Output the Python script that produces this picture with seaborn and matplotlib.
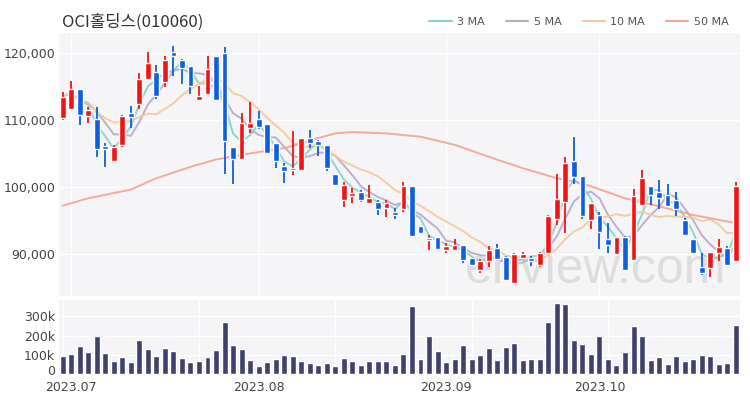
import numpy as np
import pandas as pd
import seaborn as sns
import matplotlib.pyplot as plt
import matplotlib.transforms as mtransforms
from matplotlib.lines import Line2D

# daily prices (won)
opens = [110300, 111600, 114600, 110600, 110200, 106100, 103900, 106300, 111100, 112400,
         116200, 117100, 115700, 120200, 119000, 118000, 113000, 113900, 119500, 120000,
         105900, 104100, 108800, 110200, 109400, 106600, 103100, 102500, 102600, 107300,
         106800, 106300, 102000, 98000, 98700, 99200, 97600, 97700, 96800, 96300,
         96700, 100100, 94100, 92000, 92500, 90500, 90500, 91300, 89400, 87600,
         88900, 90800, 89500, 85600, 89400, 89400, 88400, 90200, 95200, 97800,
         103800, 101600, 95000, 95800, 92200, 90000, 92500, 89100, 97300, 100100,
         99300, 98800, 98000, 95100, 92200, 88000, 87900, 90100, 90800, 89000]
closes = [113500, 114600, 110700, 111500, 105600, 105600, 105900, 110600, 110400, 116100,
          118500, 113600, 119000, 119500, 117700, 115100, 113600, 117600, 113000, 106800,
          104100, 109500, 109600, 108900, 105100, 103900, 102400, 102900, 107300, 106500,
          106300, 102800, 100300, 100300, 99100, 98100, 98300, 96700, 97600, 95800,
          100200, 92600, 93100, 92300, 90700, 91200, 91300, 89100, 88400, 89000,
          90500, 89200, 86100, 90000, 90000, 88900, 90200, 95600, 98200, 103600,
          101500, 95600, 97600, 93200, 91300, 92500, 87600, 98700, 101400, 98800,
          98300, 97200, 96700, 92800, 90100, 87200, 90300, 91000, 88400, 100200]
highs = [114200, 115900, 114600, 111900, 111900, 106600, 106300, 110800, 112100, 117000,
         120100, 118200, 119500, 121000, 119100, 118000, 115100, 119500, 119500, 120900,
         105900, 111000, 112700, 111400, 109400, 106600, 103500, 108400, 107300, 108500,
         107000, 106300, 102000, 100800, 99800, 99600, 100300, 98100, 98100, 96800,
         100700, 100100, 94100, 92800, 92500, 91600, 92200, 91300, 89400, 89200,
         91100, 91500, 89700, 90200, 90300, 89700, 90300, 95800, 101900, 104500,
         107500, 101600, 97600, 96300, 94600, 92500, 92700, 99700, 102600, 100100,
         101100, 100500, 99200, 95300, 92200, 90100, 90300, 92200, 91200, 100800]
lows = [110000, 111500, 109300, 109500, 104400, 103000, 103900, 106000, 108800, 111600,
        116000, 113200, 115000, 116600, 115400, 113900, 113000, 113700, 112900, 102000,
        100400, 104100, 108100, 108600, 105100, 102800, 100600, 101800, 102600, 105800,
        104600, 102400, 100300, 97000, 97600, 97700, 97500, 95800, 95500, 95200,
        96300, 92600, 93100, 90600, 90600, 90200, 90500, 88600, 88400, 87200,
        88100, 89100, 86000, 85500, 89400, 88200, 88100, 90100, 94300, 93100,
        100400, 95200, 93700, 90700, 90200, 90000, 87600, 89100, 97100, 97300,
        96700, 97200, 95600, 92700, 90000, 86900, 86500, 89000, 88200, 88900]
volumes = [96, 103, 146, 117, 200, 108, 70, 90, 61, 177,
           130, 96, 137, 120, 85, 63, 70, 90, 125, 273,
           150, 129, 73, 42, 64, 80, 97, 92, 66, 56,
           45, 57, 44, 82, 66, 47, 68, 70, 70, 47,
           104, 356, 77, 197, 118, 64, 78, 150, 80, 99,
           136, 71, 143, 160, 71, 80, 77, 270, 367, 362,
           177, 155, 106, 197, 80, 45, 113, 249, 200, 75,
           90, 50, 94, 66, 80, 97, 92, 52, 56, 254]  # thousands of shares

# 50-day average, read at some days
ma50_day = [0, 3, 8, 11, 15, 18, 22, 26, 28, 30, 32, 34, 38, 42, 46, 50, 54, 58, 60, 62, 66, 70, 74, 79]
ma50_val = [97200, 98300, 99600, 101300, 103000, 104100, 105000, 105800, 106500, 107300, 108000, 108200,
            108000, 107500, 106300, 104500, 102800, 101300, 100800, 100100, 98300, 97100, 95800, 94600]

month_pos = [1, 23, 45, 63]
month_labels = ["2023.07", "2023.08", "2023.09", "2023.10"]

ma_colors = {"3 MA": "#83d3c9", "5 MA": "#b7a9c8", "10 MA": "#f2c999", "50 MA": "#f4a294"}
up_color = "#f01414"
down_color = "#0d5ee0"
bg = "#f5f5f7"

df = pd.DataFrame({"day": np.arange(len(closes)), "open": opens, "close": closes,
                   "high": highs, "low": lows, "volume": np.array(volumes) * 1000})
df["3 MA"] = df["close"].rolling(3, min_periods=1).mean()
df["5 MA"] = df["close"].rolling(5, min_periods=1).mean()
df["10 MA"] = df["close"].rolling(10, min_periods=1).mean()
ma50 = pd.DataFrame({"day": ma50_day, "val": ma50_val})

sns.set_style("white")
plt.rcParams["font.family"] = ["DejaVu Sans", "Noto Sans CJK KR"]

fig = plt.figure(figsize=(7.5, 4), dpi=100)
ax = fig.add_axes([0.079, 0.26, 0.9077, 0.6575])
axv = fig.add_axes([0.079, 0.065, 0.9077, 0.185], sharex=ax)

for a in (ax, axv):
    a.set_facecolor(bg)
    for s in a.spines.values():
        s.set_visible(False)
    a.tick_params(length=0, labelsize=9, colors="#444444", pad=3)
    a.set_xticks([0, 16, 32, 48, 64])
    a.grid(True, color="white", lw=1.0)
    a.set_axisbelow(True)

# watermark
ax.text(62.5, 85700, "enview.com", fontsize=36, color="#dddddd", ha="center", va="baseline",
        zorder=1, family="Liberation Sans")

# moving averages
for name in ["3 MA", "5 MA", "10 MA"]:
    sns.lineplot(data=df, x="day", y=name, ax=ax, color=ma_colors[name], lw=1.4, alpha=0.9,
                 estimator=None, zorder=2)
sns.lineplot(data=ma50, x="day", y="val", ax=ax, color=ma_colors["50 MA"], lw=1.4, alpha=0.9,
             estimator=None, zorder=2)

# candles
up = df["close"] >= df["open"]
colors = np.where(up, up_color, down_color)
body_lo = np.minimum(df["open"], df["close"])
body_h = np.maximum(np.abs(df["close"] - df["open"]), 150)
ax.vlines(df["day"], df["low"], df["high"], colors=colors, lw=1.3, zorder=3)
ax.bar(df["day"], body_h, bottom=body_lo, width=0.68, color=colors, zorder=4)

ax.set_xlim(-0.4, 79.5)
ax.set_ylim(83700, 123000)
ax.set_yticks([90000, 100000, 110000, 120000])
ax.set_yticklabels(["90,000", "100,000", "110,000", "120,000"])
ax.set_xlabel("")
ax.set_ylabel("")
plt.setp(ax.get_xticklabels(), visible=False)

# volume
sns.barplot(data=df, x="day", y="volume", ax=axv, native_scale=True, color="#40416b",
            saturation=1, width=0.7, zorder=3)
axv.set_ylim(0, 385000)
axv.set_yticks([0, 100000, 200000, 300000])
axv.set_yticklabels(["0", "100k", "200k", "300k"])
zero_lab = axv.get_yticklabels()[0]
zero_lab.set_transform(zero_lab.get_transform() +
                       mtransforms.ScaledTranslation(0, 3 / 72, fig.dpi_scale_trans))
axv.set_xlim(-0.4, 79.5)
axv.set_xticks(month_pos)
axv.set_xticklabels(month_labels)
axv.tick_params(axis="x", pad=5)
axv.grid(False, axis="x")
for d in [0, 16, 32, 48, 64]:
    axv.axvline(d, color="white", lw=1.0, zorder=0)
axv.set_xlabel("")
axv.set_ylabel("")

fig.text(0.083, 0.945, "OCI홀딩스(010060)", fontsize=12, color="#333333", va="center",
         family=["Noto Sans CJK KR", "DejaVu Sans"])

handles = [Line2D([], [], color=c, lw=1.5) for c in ma_colors.values()]
fig.legend(handles, list(ma_colors.keys()), loc="center right", bbox_to_anchor=(0.985, 0.945),
           ncol=4, frameon=False, fontsize=8, handlelength=2.0, columnspacing=1.9,
           handletextpad=0.5, labelcolor="#555555")

plt.savefig("out.png", dpi=100)
